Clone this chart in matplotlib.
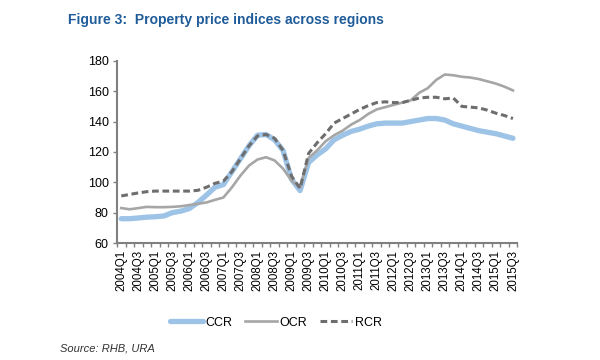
import numpy as np
import matplotlib
matplotlib.use("Agg")
import matplotlib.pyplot as plt

plt.rcParams['font.family'] = ['Liberation Sans', 'DejaVu Sans']

# quarters 2004Q1 .. 2015Q3
quarters = [f"{y}Q{q}" for y in range(2004, 2016) for q in range(1, 5)][:47]

ccr = [76, 76, 76.5, 77, 77.3, 77.8, 80, 81, 82.7, 86.7, 91.5, 96.7,
       98.5, 107, 115.5, 124, 131, 131.5, 128, 121, 102, 94.5, 113, 118,
       122, 128, 131, 133.5, 135, 137, 138.5, 139, 139, 139, 140, 141,
       142, 142, 141, 138.5, 137, 135.5, 134, 133, 132, 130.5, 129]
ocr = [83, 82.2, 83, 83.8, 83.6, 83.6, 83.8, 84.2, 85, 85.8, 86.7, 88.4,
       90, 96.7, 104.4, 111, 115, 116.5, 114.4, 109, 101, 96.7, 116, 121,
       127, 131, 134, 138, 141, 145, 148, 149.5, 151, 152.5, 154, 159,
       162, 167.5, 171, 170.5, 169.5, 169, 168, 166.5, 165, 163, 160.5]
rcr = [91, 92, 93, 93.8, 94.2, 94.2, 94.2, 94.2, 94.2, 94.7, 96.7, 99.3,
       100.8, 107, 115.5, 124, 130.5, 131.5, 129, 121, 104, 96, 119, 126,
       132, 139, 142, 145, 148, 150.5, 152.5, 153, 152.5, 152.5, 154, 155.5,
       156, 156, 155, 155.5, 150, 149.5, 149, 147.5, 145.5, 144, 142]

x = np.arange(len(quarters))

fig = plt.figure(figsize=(6, 3.6), dpi=100)
ax = fig.add_axes([0.195, 0.325, 0.667, 0.506])

ax.plot(x, ccr, color='#9dc3e6', lw=3.8, solid_capstyle='round', label='CCR')
ax.plot(x, ocr, color='#a6a6a6', lw=1.9, label='OCR')
ax.plot(x, rcr, color='#6e6e6e', lw=2.2, ls=(0, (2.2, 1.2)), label='RCR')

ax.set_xlim(-0.5, len(quarters) - 0.5)
ax.set_ylim(60, 180)
ax.set_yticks(range(60, 181, 20))

# ticks on category boundaries, labels on every other category
ax.set_xticks(np.arange(-0.5, len(quarters), 1))
ax.set_xticklabels([])
ax.set_xticks(x[::2], minor=True)
ax.set_xticklabels(quarters[::2], minor=True, rotation=90, fontsize=8.3)
ax.tick_params(axis='x', which='minor', length=0, pad=5)
ax.tick_params(axis='x', which='major', length=3, width=1, color='#808080', direction='out')
ax.tick_params(axis='y', length=3, width=1, color='#808080', labelsize=9, pad=3)

for s in ['top', 'right']:
    ax.spines[s].set_visible(False)
for s in ['left', 'bottom']:
    ax.spines[s].set_color('#808080')
    ax.spines[s].set_linewidth(1.5)

fig.text(0.113, 0.944, 'Figure 3:  Property price indices across regions',
         fontsize=10, fontweight='bold', color='#1f5c99', va='center')
fig.text(0.1, 0.033, 'Source: RHB, URA', fontsize=8, style='italic',
         color='#333333', va='center')

fig.legend(loc='center', bbox_to_anchor=(0.46, 0.104), ncol=3, frameon=False,
           fontsize=9, handlelength=2.6, handletextpad=0.2, columnspacing=1.0)

fig.savefig('out.png', dpi=100)
